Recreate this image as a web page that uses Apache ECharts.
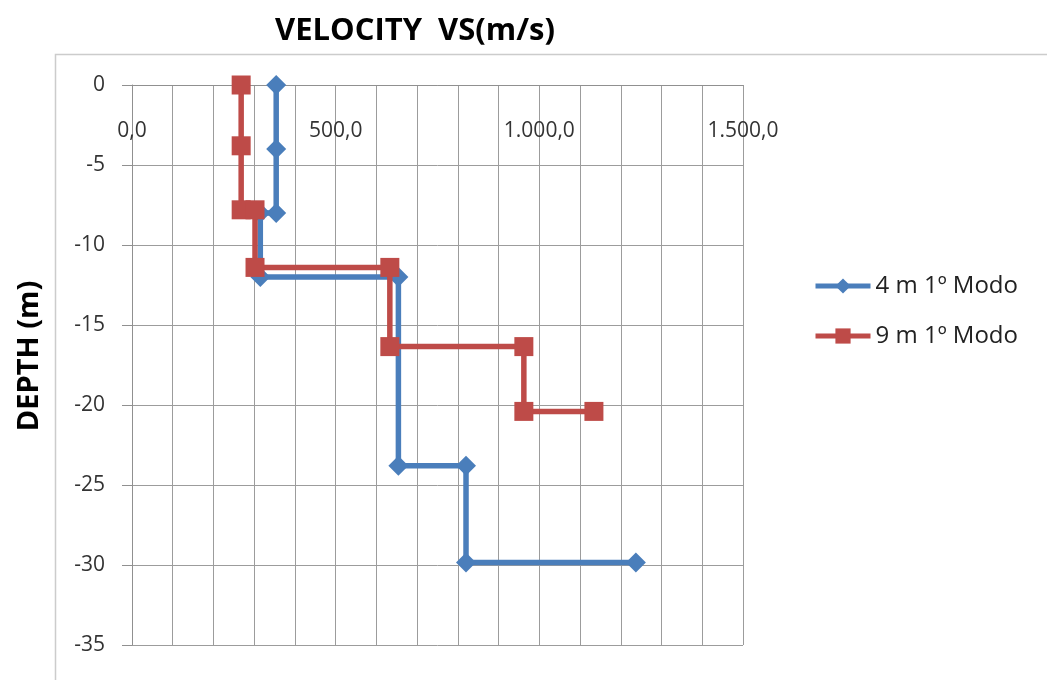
<!DOCTYPE html>
<html><head><meta charset="utf-8">
<script src="https://cdn.jsdelivr.net/npm/echarts@6/dist/echarts.min.js"></script>
<style>html,body{margin:0;padding:0;background:#fff}#c{width:1047px;height:680px}</style>
</head><body><div id="c"></div>
<script>
const titleText = 'VELOCITY  VS(m/s)';
const yAxisTitle = 'DEPTH (m)';
const seriesNames = ['4 m 1º Modo', '9 m 1º Modo'];
const blueVelocity = [354, 354, 354, 315, 315, 654, 654, 820, 820, 1237];
const blueDepth = [0, -4, -8, -8, -12, -12, -23.8, -23.8, -29.85, -29.85];
const redVelocity = [268, 268, 268, 302, 302, 633, 633, 962, 962, 1134];
const redDepth = [0, -3.8, -7.8, -7.8, -11.4, -11.4, -16.35, -16.35, -20.4, -20.4];
const xTickValues = [0, 500, 1000, 1500];
const xTickLabels = ['0,0', '500,0', '1.000,0', '1.500,0'];

const FONT = "'Open Sans', sans-serif";
const pairs = (xs, ys) => xs.map((x, i) => [x, ys[i]]);

const chart = echarts.init(document.getElementById('c'), null, {renderer: 'canvas'});
chart.setOption({
  animation: false,
  backgroundColor: '#ffffff',
  graphic: [{
    type: 'rect', left: 53, top: 52, silent: true,
    shape: {width: 1100, height: 700},
    style: {fill: 'none', stroke: '#cccccc', lineWidth: 1.5}
  }],
  title: {
    text: titleText, left: 270, top: 11,
    textStyle: {fontFamily: FONT, fontWeight: 'bold', fontSize: 31, color: '#000'}
  },
  legend: {
    orient: 'vertical', left: 808, top: 269,
    itemWidth: 55, itemHeight: 19, itemGap: 26,
    lineStyle: {width: 5},
    textStyle: {fontFamily: FONT, fontSize: 24, color: '#222'},
    data: seriesNames
  },
  grid: {left: 132, right: 304, top: 85, bottom: 35, containLabel: false},
  xAxis: {
    type: 'value', position: 'top', min: 0, max: 1500, interval: 100,
    axisLine: {show: true, lineStyle: {color: '#909090', width: 1}},
    axisTick: {show: false},
    axisLabel: {
      inside: true, margin: 36, customValues: xTickValues,
      fontFamily: FONT, fontSize: 21, color: '#333',
      formatter: v => { const i = xTickValues.indexOf(v); return i >= 0 ? xTickLabels[i] : ''; }
    },
    splitLine: {show: true, lineStyle: {color: '#9c9c9c', width: 1}}
  },
  yAxis: {
    type: 'value', min: -35, max: 0, interval: 5,
    name: yAxisTitle, nameLocation: 'middle', nameGap: 88,
    nameTextStyle: {fontFamily: FONT, fontWeight: 'bold', fontSize: 29, color: '#000', padding: [0, 0, 0, 18]},
    axisLine: {show: true, onZero: false, lineStyle: {color: '#909090', width: 1}},
    axisTick: {show: true, inside: false, length: 10, lineStyle: {color: '#909090'}},
    axisLabel: {margin: 27, fontFamily: FONT, fontSize: 21, color: '#333'},
    splitLine: {show: true, lineStyle: {color: '#9c9c9c', width: 1}}
  },
  series: [
    {
      name: seriesNames[0], type: 'line', data: pairs(blueVelocity, blueDepth),
      symbol: 'diamond', symbolSize: 20, showAllSymbol: true,
      lineStyle: {color: '#4A7EBB', width: 5.5},
      itemStyle: {color: '#4A7EBB'}, z: 3
    },
    {
      name: seriesNames[1], type: 'line', data: pairs(redVelocity, redDepth),
      symbol: 'rect', symbolSize: 19, showAllSymbol: true,
      lineStyle: {color: '#BE4B48', width: 5.5},
      itemStyle: {color: '#BE4B48'}, z: 4
    }
  ]
});
</script></body></html>
